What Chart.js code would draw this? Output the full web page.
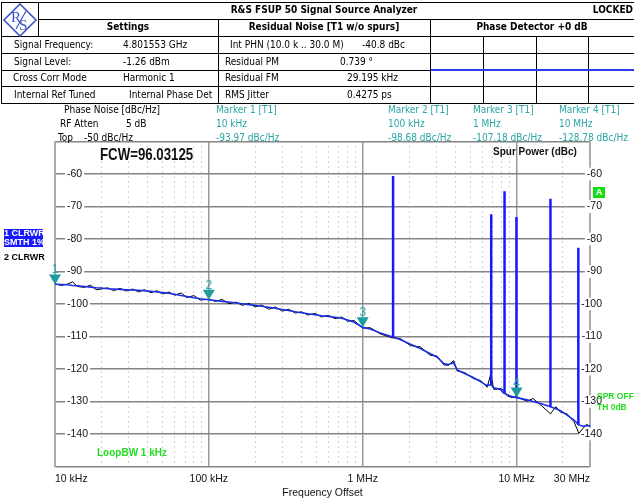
<!DOCTYPE html>
<html>
<head>
<meta charset="utf-8">
<script src="https://cdn.jsdelivr.net/npm/chart.js@4.4.1/dist/chart.umd.min.js"></script>
<style>
  body { margin: 0; background: #fff; }
  #wrap { position: relative; width: 634px; height: 502px; overflow: hidden;
          font-family: "DejaVu Sans Condensed", "DejaVu Sans", sans-serif; font-size: 10px; color: #000; }
  #plot { position: absolute; left: 0; top: 0; }
  .t { position: absolute; white-space: nowrap; line-height: 12px; }
  .b { font-weight: bold; }
  .c { transform: translateX(-50%); }
  .mk { color: #2aa6a4; }
  .hl { position: absolute; height: 1px; background: #000; }
  .vl { position: absolute; width: 1px; background: #000; }
  .g { position: absolute; white-space: nowrap; font-family: "Liberation Sans", Arial, sans-serif; font-weight: bold; }
</style>
</head>
<body>
<div id="wrap">
  <canvas id="plot" width="634" height="502"></canvas>

  <!-- header table -->
  <div class="hl" style="left:1px;top:2px;width:633px"></div>
  <div class="hl" style="left:38px;top:19px;width:596px"></div>
  <div class="hl" style="left:1px;top:36px;width:633px"></div>
  <div class="hl" style="left:1px;top:53px;width:633px"></div>
  <div class="hl" style="left:1px;top:70px;width:633px"></div>
  <div class="hl" style="left:1px;top:86px;width:633px"></div>
  <div class="hl" style="left:1px;top:103px;width:633px"></div>
  <div class="vl" style="left:1px;top:2px;height:102px"></div>
  <div class="vl" style="left:38px;top:2px;height:35px"></div>
  <div class="vl" style="left:218px;top:19px;height:85px"></div>
  <div class="vl" style="left:430px;top:19px;height:85px"></div>
  <div class="vl" style="left:483px;top:36px;height:68px"></div>
  <div class="vl" style="left:536px;top:36px;height:68px"></div>
  <div class="vl" style="left:588px;top:36px;height:68px"></div>
  <div style="position:absolute;left:431px;top:69px;width:203px;height:2px;background:#2a3ee6"></div>

  <svg style="position:absolute;left:2px;top:3px" width="36" height="34" viewBox="0 0 36 34">
    <polygon points="18,1 34,17 18,33 2,17" fill="#fff" stroke="#3a55c8" stroke-width="1.6"/>
    <text x="9" y="19" font-family="Liberation Serif, serif" font-size="15" fill="#3a55c8">R</text>
    <text x="17" y="27" font-family="Liberation Serif, serif" font-size="15" fill="#3a55c8">S</text>
    <line x1="14" y1="26" x2="24" y2="8" stroke="#3a55c8" stroke-width="1.2"/>
  </svg>

  <div class="t b c" style="left:324px;top:4px">R&amp;S FSUP 50 Signal Source Analyzer</div>
  <div class="t b" style="right:1px;top:4px">LOCKED</div>
  <div class="t b c" style="left:128px;top:21px">Settings</div>
  <div class="t b c" style="left:324px;top:21px">Residual Noise [T1 w/o spurs]</div>
  <div class="t b c" style="left:532px;top:21px">Phase Detector +0 dB</div>

  <div class="t" style="left:14px;top:39px">Signal Frequency:</div>
  <div class="t" style="left:123px;top:39px">4.801553 GHz</div>
  <div class="t" style="left:230px;top:39px">Int PHN (10.0 k .. 30.0 M)</div>
  <div class="t" style="left:362px;top:39px">-40.8 dBc</div>
  <div class="t" style="left:14px;top:56px">Signal Level:</div>
  <div class="t" style="left:123px;top:56px">-1.26 dBm</div>
  <div class="t" style="left:225px;top:56px">Residual PM</div>
  <div class="t" style="left:340px;top:56px">0.739 °</div>
  <div class="t" style="left:13px;top:72px">Cross Corr Mode</div>
  <div class="t" style="left:123px;top:72px">Harmonic 1</div>
  <div class="t" style="left:225px;top:72px">Residual FM</div>
  <div class="t" style="left:347px;top:72px">29.195 kHz</div>
  <div class="t" style="left:14px;top:89px">Internal Ref Tuned</div>
  <div class="t" style="left:129px;top:89px">Internal Phase Det</div>
  <div class="t" style="left:225px;top:89px">RMS Jitter</div>
  <div class="t" style="left:347px;top:89px">0.4275 ps</div>

  <!-- marker table -->
  <div class="t" style="left:64px;top:104px">Phase Noise [dBc/Hz]</div>
  <div class="t" style="left:60px;top:118px">RF Atten</div>
  <div class="t" style="left:126px;top:118px">5 dB</div>
  <div class="t" style="left:58px;top:132px">Top</div>
  <div class="t" style="left:84px;top:132px">-50 dBc/Hz</div>
  <div class="t mk" style="left:216px;top:104px">Marker 1 [T1]</div>
  <div class="t mk" style="left:216px;top:118px">10 kHz</div>
  <div class="t mk" style="left:216px;top:132px">-93.97 dBc/Hz</div>
  <div class="t mk" style="left:388px;top:104px">Marker 2 [T1]</div>
  <div class="t mk" style="left:388px;top:118px">100 kHz</div>
  <div class="t mk" style="left:388px;top:132px">-98.68 dBc/Hz</div>
  <div class="t mk" style="left:473px;top:104px">Marker 3 [T1]</div>
  <div class="t mk" style="left:473px;top:118px">1 MHz</div>
  <div class="t mk" style="left:473px;top:132px">-107.18 dBc/Hz</div>
  <div class="t mk" style="left:559px;top:104px">Marker 4 [T1]</div>
  <div class="t mk" style="left:559px;top:118px">10 MHz</div>
  <div class="t mk" style="left:559px;top:132px">-128.78 dBc/Hz</div>

  <!-- trace / plot annotations -->
  <div class="g" style="left:4px;top:229px;width:39px;height:18px;background:#1a1aff;color:#fff;font-size:9px;line-height:9px;text-align:right">1 CLRWR<br>SMTH 1%</div>
  <div class="g" style="left:4px;top:252px;width:39px;font-size:9px;line-height:10px;text-align:right">2 CLRWR</div>
  <div class="g" style="left:100px;top:146px;font-size:17px;line-height:18px;color:#111;transform:scaleX(0.78);transform-origin:0 0">FCW=96.03125</div>
  <div class="g" style="left:493px;top:146px;font-size:10px;line-height:12px;color:#111">Spur Power (dBc)</div>
  <div class="g" style="left:97px;top:447px;font-size:10px;line-height:12px;color:#22dd22">LoopBW 1 kHz</div>
  <div class="g" style="left:593px;top:187px;width:12px;height:11px;background:#14dd14;color:#fff;font-size:9px;line-height:11px;text-align:center">A</div>
  <div class="g" style="left:597px;top:391px;font-size:8.5px;line-height:10.5px;color:#22dd22">SPR OFF<br>TH 0dB</div>
</div>

<script>
// offset frequencies of the trace (Hz)
const noiseFreq = [
  10000, 11000, 12000, 13000, 14000, 15500, 17000, 18500, 20000, 22000,
  24000, 26500, 29000, 32000, 35000, 38000, 42000, 46000, 50000, 55000,
  60000, 66000, 72000, 80000, 88000, 100000, 110000, 122000, 135000, 150000,
  165000, 182000, 200000, 220000, 245000, 270000, 300000, 330000, 365000, 400000,
  440000, 490000, 540000, 600000, 660000, 730000, 800000, 880000, 1000000, 1120000,
  1300000, 1550000, 1750000, 2040000, 2370000, 2750000, 3040000, 3360000, 3600000, 3900000,
  4110000, 4600000, 5270000, 5820000, 6440000, 6800000, 7110000, 7860000, 8250000, 8700000,
  9360000, 10000000, 11700000, 12800000, 14300000, 16600000, 18000000, 19300000, 21300000, 23600000,
  25400000, 27000000, 28500000, 30000000
];
// trace 1, smoothed (dBc/Hz)
const smoothDb = [
  -93.9, -94.0, -94.1, -94.3, -94.4, -94.6, -94.8, -95.0, -95.1, -95.3,
  -95.4, -95.5, -95.6, -95.7, -95.8, -95.9, -96.1, -96.3, -96.5, -96.7,
  -97.0, -97.4, -97.7, -98.1, -98.4, -98.7, -98.9, -99.2, -99.4, -99.7,
  -99.9, -100.2, -100.4, -100.7, -101.0, -101.3, -101.7, -102.0, -102.4, -102.7,
  -103.0, -103.3, -103.6, -103.8, -104.1, -104.4, -104.9, -105.6, -107.2, -107.7,
  -108.9, -110.1, -110.9, -112.4, -113.7, -115.3, -116.3, -118.3, -118.6, -118.1,
  -120.3, -121.4, -122.7, -123.9, -125.1, -124.8, -125.8, -126.3, -127.4, -127.9,
  -128.5, -128.8, -129.5, -130.0, -130.6, -131.6, -132.2, -132.8, -134.2, -135.7,
  -137.2, -137.6, -137.4, -137.5
];
// trace 2, raw (dBc/Hz)
const rawDb = [
  -93.8, -94.3, -93.9, -93.2, -94.6, -94.9, -94.2, -95.6, -95.4, -95.0,
  -95.9, -95.2, -96.0, -95.4, -96.3, -95.6, -96.5, -95.9, -96.9, -96.3,
  -97.3, -96.6, -98.0, -97.4, -98.8, -98.5, -99.2, -98.6, -99.9, -99.4,
  -100.4, -99.8, -100.9, -100.3, -101.6, -100.9, -102.2, -101.6, -102.8, -102.4,
  -103.4, -102.9, -104.0, -103.5, -104.5, -104.0, -105.3, -105.1, -107.4, -107.3,
  -109.2, -110.4, -110.6, -112.8, -113.2, -115.8, -116.0, -118.7, -118.9, -117.4,
  -120.6, -121.1, -123.0, -123.5, -125.6, -121.5, -126.3, -126.0, -126.5, -128.3,
  -128.8, -128.6, -129.9, -129.1, -131.0, -133.8, -131.6, -133.3, -133.8, -136.2,
  -139.8, -138.3, -137.0, -137.8
];

// discrete spurs: offset (Hz), level (dBc), foot on the noise trace
const spurFreq = [1575000, 6840000, 8350000, 9980000, 16600000, 25200000];
const spurTop = [-60.6, -72.4, -65.3, -73.2, -67.6, -82.7];
const spurBase = [-110.3, -124.9, -127.3, -128.7, -131.6, -137.2];

// markers on trace 1
const markerFreq = [10000, 100000, 1000000, 10000000];
const markerDb = [-93.97, -98.68, -107.18, -128.78];

const xMajorTicks = [10000, 100000, 1000000, 10000000, 30000000];
const xTickLabels = ['10 kHz', '100 kHz', '1 MHz', '10 MHz', '30 MHz'];
const xMinorTicks = [
  20000, 30000, 40000, 50000, 60000, 70000, 80000, 90000,
  200000, 300000, 400000, 500000, 600000, 700000, 800000, 900000,
  2000000, 3000000, 4000000, 5000000, 6000000, 7000000, 8000000, 9000000,
  20000000
];

const MARKER_COLOR = '#1c9c9a';
const AXIS_FONT = { family: '"Liberation Sans", Arial, sans-serif', size: 10.5 };

function toPoints(xs, ys) {
  return xs.map((f, i) => ({ x: f, y: ys[i] }));
}

const spurPoints = [];
spurFreq.forEach((f, i) => {
  spurPoints.push({ x: f, y: spurTop[i] }, { x: f, y: spurBase[i] }, { x: f, y: null });
});

const markerPlugin = {
  id: 'markers',
  afterDatasetsDraw(chart) {
    const { ctx, scales: { x, y } } = chart;
    ctx.save();
    ctx.font = '12px "Liberation Sans", Arial, sans-serif';
    ctx.textAlign = 'center';
    ctx.textBaseline = 'alphabetic';
    markerFreq.forEach((f, i) => {
      const px = x.getPixelForValue(f);
      const py = y.getPixelForValue(markerDb[i]);
      ctx.fillStyle = MARKER_COLOR;
      ctx.beginPath();
      ctx.moveTo(px, py);
      ctx.lineTo(px - 6, py - 10);
      ctx.lineTo(px + 6, py - 10);
      ctx.closePath();
      ctx.fill();
      ctx.fillStyle = '#2aa6a4';
      ctx.fillText(String(i + 1), px, py - 11);
    });
    ctx.restore();
  }
};

const yTick = v => (v > -150 && v < -50) ? String(v) : '';
const yBackdrop = ctx => (ctx.tick && ctx.tick.value > -150 && ctx.tick.value < -50) ? '#fff' : 'rgba(0,0,0,0)';

new Chart(document.getElementById('plot'), {
  type: 'line',
  data: {
    datasets: [
      {
        data: spurPoints,
        borderColor: '#1818ff',
        borderWidth: 2.5,
        pointRadius: 0,
        spanGaps: false,
        order: 0
      },
      {
        data: toPoints(noiseFreq, smoothDb),
        borderColor: '#1a2ee8',
        borderWidth: 1.6,
        pointRadius: 0,
        order: 1
      },
      {
        data: toPoints(noiseFreq, rawDb),
        borderColor: '#000',
        borderWidth: 1,
        pointRadius: 0,
        order: 2
      }
    ]
  },
  options: {
    responsive: false,
    animation: false,
    devicePixelRatio: 1,
    layout: { padding: { left: 55, right: 44, top: 141.5, bottom: 0 } },
    plugins: { legend: { display: false }, tooltip: { enabled: false } },
    scales: {
      x: {
        type: 'logarithmic',
        min: 10000,
        max: 30000000,
        afterBuildTicks: s => { s.ticks = xMajorTicks.map(v => ({ value: v })); },
        afterFit: s => { s.height = 35.5; },
        ticks: {
          autoSkip: false,
          maxRotation: 0,
          align: 'inner',
          padding: 6,
          color: '#111',
          font: AXIS_FONT,
          callback: (v, i) => xTickLabels[i]
        },
        grid: { color: '#9a9a9a', lineWidth: 1.5, drawTicks: false },
        border: { display: false },
        title: {
          display: true,
          text: 'Frequency Offset',
          color: '#111',
          font: AXIS_FONT,
          padding: { top: 0, bottom: 3 }
        }
      },
      xm: {
        type: 'logarithmic',
        position: 'bottom',
        min: 10000,
        max: 30000000,
        afterBuildTicks: s => { s.ticks = xMinorTicks.map(v => ({ value: v })); },
        afterFit: s => { s.height = 0; },
        ticks: { display: false },
        grid: { color: '#a8a8a8', lineWidth: 1, drawTicks: false },
        border: { display: false, dash: [1, 4] }
      },
      y: {
        position: 'left',
        min: -150,
        max: -50,
        afterFit: s => { s.width = 0; },
        ticks: {
          stepSize: 10,
          mirror: true,
          padding: 12,
          color: '#111',
          font: AXIS_FONT,
          callback: yTick,
          showLabelBackdrop: true,
          backdropColor: yBackdrop,
          backdropPadding: { top: 0, bottom: 0, left: 2, right: 2 }
        },
        grid: { color: '#858585', lineWidth: 1.5, drawTicks: false },
        border: { display: true, color: '#ababab', width: 2 }
      },
      y2: {
        position: 'right',
        min: -150,
        max: -50,
        afterFit: s => { s.width = 0; },
        ticks: {
          stepSize: 10,
          mirror: true,
          padding: 12,
          color: '#111',
          font: AXIS_FONT,
          callback: yTick,
          showLabelBackdrop: true,
          backdropColor: yBackdrop,
          backdropPadding: { top: 0, bottom: 0, left: 2, right: 2 }
        },
        grid: { display: false, drawTicks: false },
        border: { display: true, color: '#ababab', width: 2 }
      }
    }
  },
  plugins: [markerPlugin]
});
</script>
</body>
</html>
